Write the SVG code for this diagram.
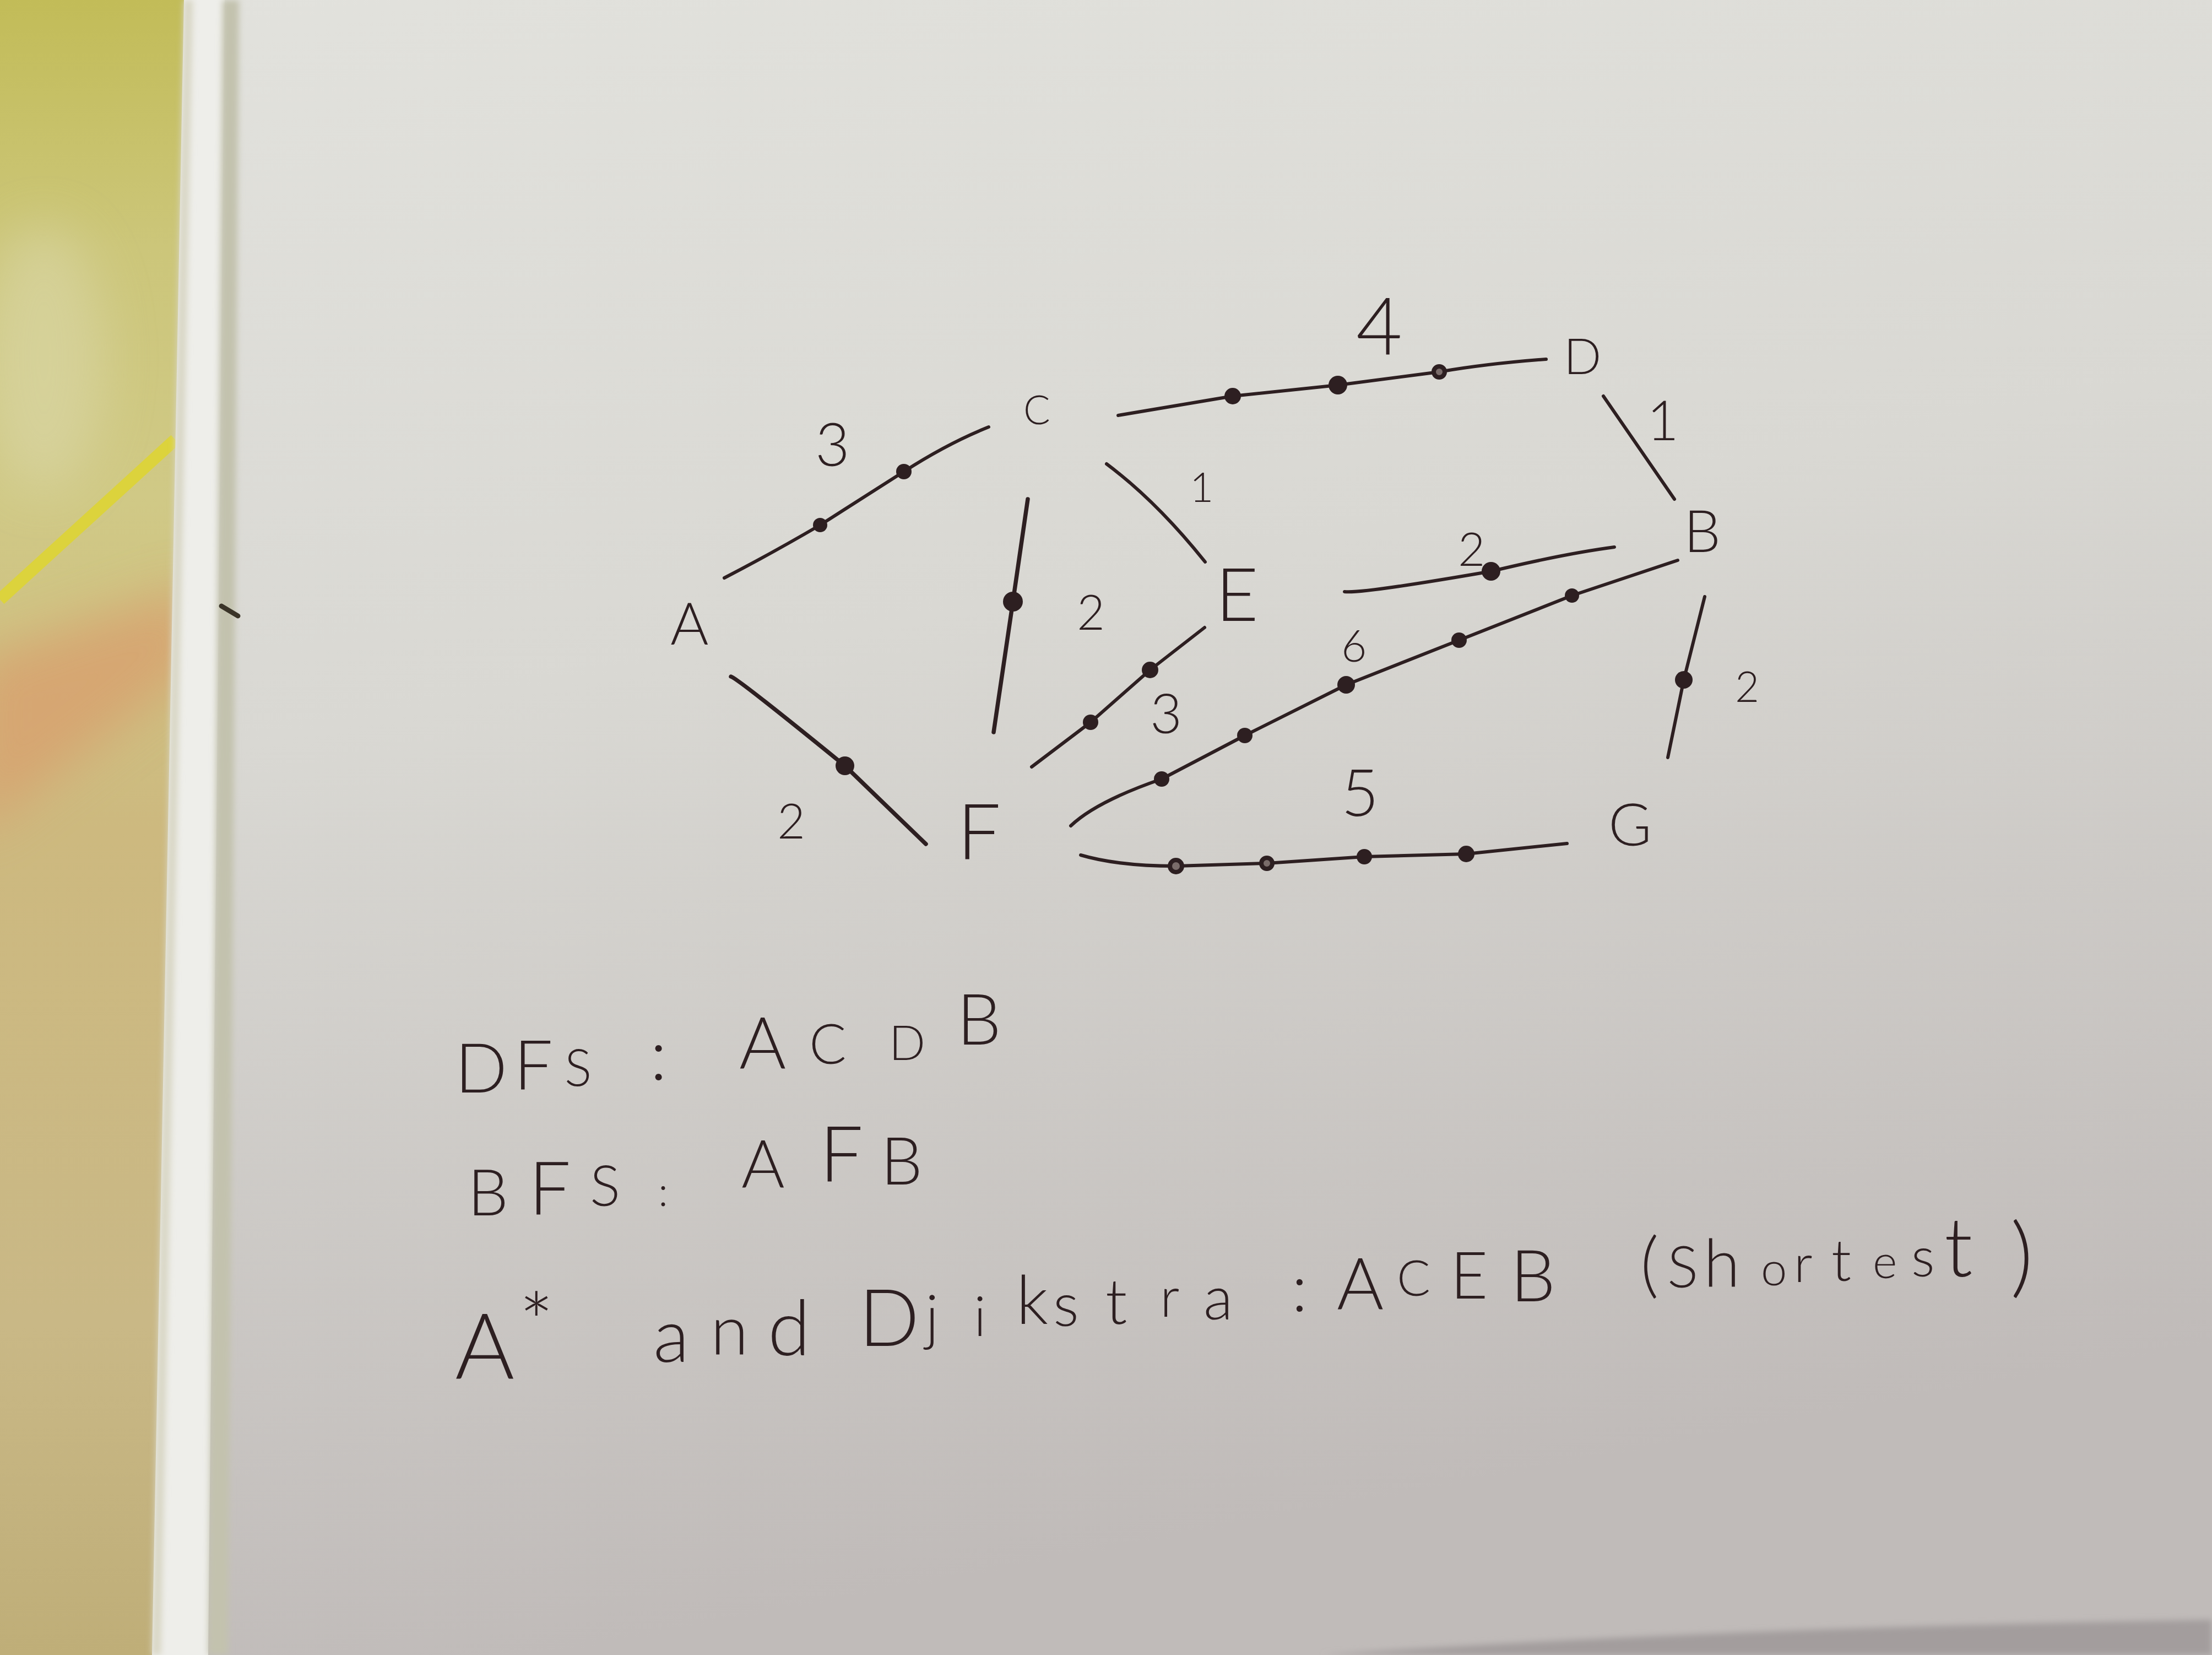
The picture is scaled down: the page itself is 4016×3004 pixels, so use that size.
<svg xmlns="http://www.w3.org/2000/svg" width="4016" height="3004" viewBox="0 0 4016 3004">
<style>
.ink{stroke:#2d1f21;fill:none;stroke-linecap:round;stroke-linejoin:round;stroke-width:6}
.thick{stroke-width:7.5}
.dot{fill:#2d1f21}
.hol{fill:#7a6c6a;stroke:#2d1f21;stroke-width:8}
.t{font-family:Lato,"Liberation Sans",sans-serif;font-weight:300;fill:#2d1f21}
</style>
<defs>
<linearGradient id="page" x1="0" y1="0" x2="0.25" y2="1">
<stop offset="0" stop-color="#e2e2dd"/>
<stop offset="0.45" stop-color="#d9d8d3"/>
<stop offset="1" stop-color="#c0bbb9"/>
</linearGradient>
<linearGradient id="yel" x1="0" y1="0" x2="0" y2="1">
<stop offset="0" stop-color="#c2bc58"/>
<stop offset="0.15" stop-color="#ccc67a"/>
<stop offset="0.3" stop-color="#d0c986"/>
<stop offset="0.5" stop-color="#cdb97f"/>
<stop offset="0.8" stop-color="#c9b886"/>
<stop offset="1" stop-color="#bfae78"/>
</linearGradient>
<filter id="blur" x="-50%" y="-50%" width="200%" height="200%"><feGaussianBlur stdDeviation="45"/></filter>
<filter id="blur2" x="-20%" y="-20%" width="140%" height="140%"><feGaussianBlur stdDeviation="6"/></filter>
<clipPath id="leftclip"><polygon points="0,0 338,0 278,3004 0,3004"/></clipPath>
</defs>
<g id="background">
<rect x="0" y="0" width="4016" height="3004" fill="url(#page)"/>
<path d="M2400,3004 Q3100,2955 4016,2940 L4016,3004 Z" fill="#a39d9d" filter="url(#blur2)"/>
<polygon points="0,0 338,0 278,3004 0,3004" fill="url(#yel)"/>
<g clip-path="url(#leftclip)">
<ellipse cx="80" cy="650" rx="110" ry="240" fill="#dcd9ad" opacity="0.55" filter="url(#blur)"/>
<polygon points="-50,1200 360,1060 360,1210 -50,1520" fill="#d8a06e" opacity="0.8" filter="url(#blur)"/>
</g>
<line x1="0" y1="1088" x2="318" y2="798" stroke="#dcd33c" stroke-width="22"/>
<polygon points="334,0 408,0 378,3004 276,3004" fill="#eeeeea"/>
<polygon points="334,0 350,0 292,3004 276,3004" fill="#d8d6c4" filter="url(#blur2)"/>
<polygon points="404,0 434,0 414,3004 378,3004" fill="#c3c2ae" filter="url(#blur2)"/>
<line x1="402" y1="1100" x2="432" y2="1118" stroke="#3a3428" stroke-width="9" stroke-linecap="round"/>
</g>
<g id="connectors">
<path class="ink" d="M1315,1049 Q1400,1005 1489,953 L1641,856 Q1720,805 1795,775"/>
<path class="ink thick" d="M1327,1228 Q1340,1232 1534,1390 L1681,1532"/>
<path class="ink" d="M2030,754 L2238,719 L2429,699 L2613,675 Q2700,660 2807,652"/>
<path class="ink thick" d="M1866,906 L1839,1092 L1804,1329"/>
<path class="ink" d="M2009,842 Q2100,910 2188,1020"/>
<path class="ink" d="M2911,719 L3040,906"/>
<path class="ink" d="M2441,1074 Q2470,1078 2707,1037 Q2840,1005 2931,993"/>
<path class="ink" d="M1873,1392 L1980,1311 L2088,1216 L2187,1139"/>
<path class="ink" d="M1944,1499 Q1990,1455 2109,1414 L2260,1335 L2444,1243 L2649,1162 L2854,1081 L3046,1017"/>
<path class="ink" d="M3095,1083 L3057,1234 L3028,1375"/>
<path class="ink" d="M1962,1552 Q2030,1572 2135,1572 L2300,1567 L2477,1555 L2662,1550 L2845,1531"/>
<circle class="dot" cx="1489" cy="953" r="13"/>
<circle class="dot" cx="1641" cy="856" r="14"/>
<circle class="dot" cx="1534" cy="1390" r="17"/>
<circle class="dot" cx="1839" cy="1092" r="18"/>
<circle class="dot" cx="2238" cy="719" r="15"/>
<circle class="dot" cx="2429" cy="699" r="17"/>
<circle class="hol" cx="2613" cy="675" r="10"/>
<circle class="dot" cx="2707" cy="1037" r="17"/>
<circle class="dot" cx="1980" cy="1311" r="14"/>
<circle class="dot" cx="2088" cy="1216" r="15"/>
<circle class="dot" cx="2109" cy="1414" r="14"/>
<circle class="dot" cx="2260" cy="1335" r="14"/>
<circle class="dot" cx="2444" cy="1243" r="16"/>
<circle class="dot" cx="2649" cy="1162" r="14"/>
<circle class="dot" cx="2854" cy="1081" r="13"/>
<circle class="dot" cx="3057" cy="1234" r="16"/>
<circle class="hol" cx="2135" cy="1572" r="11"/>
<circle class="hol" cx="2300" cy="1567" r="10"/>
<circle class="dot" cx="2477" cy="1555" r="14"/>
<circle class="dot" cx="2662" cy="1550" r="15"/>
</g>
<g id="weights">
<text class="t" x="1480" y="846" font-size="108">3</text>
<text class="t" x="1411" y="1522" font-size="88">2</text>
<text class="t" x="1955" y="1143" font-size="88">2</text>
<text class="t" x="2160" y="911" font-size="75">1</text>
<text class="t" x="2088" y="1331" font-size="100">3</text>
<text class="t" x="2462" y="643" font-size="145">4</text>
<text class="t" x="2990" y="799" font-size="100">1</text>
<text class="t" x="2647" y="1027" font-size="85">2</text>
<text class="t" x="2435" y="1201" font-size="80">6</text>
<text class="t" x="3150" y="1274" font-size="76">2</text>
<text class="t" x="2435" y="1481" font-size="118">5</text>
</g>
<g id="node-A"><text class="t" x="1217" y="1170" font-size="106">A</text></g>
<g id="node-C"><text class="t" x="1858" y="770" font-size="72">C</text></g>
<g id="node-D"><text class="t" x="2839" y="679" font-size="90">D</text></g>
<g id="node-B"><text class="t" x="3057" y="1002" font-size="106">B</text></g>
<g id="node-E"><text class="t" x="2207" y="1127" font-size="134">E</text></g>
<g id="node-F"><text class="t" x="1738" y="1560" font-size="140">F</text></g>
<g id="node-G"><text class="t" x="2920" y="1535" font-size="107">G</text></g>
<g id="notes">
<text class="t"><tspan x="826" y="1983" font-size="125">D</tspan><tspan x="933" y="1978" font-size="125">F</tspan><tspan x="1025" y="1971" font-size="92">S </tspan><tspan x="1180" y="1960" font-size="130">: </tspan><tspan x="1342" y="1940" font-size="130">A</tspan><tspan x="1469" y="1931" font-size="100">C</tspan><tspan x="1614" y="1924" font-size="87">D</tspan><tspan x="1737" y="1896" font-size="128">B</tspan></text>
<text class="t"><tspan x="849" y="2206" font-size="117">B</tspan><tspan x="960" y="2205" font-size="135">F</tspan><tspan x="1071" y="2189" font-size="103">S</tspan><tspan x="1195" y="2189" font-size="75">: </tspan><tspan x="1346" y="2155" font-size="120">A</tspan><tspan x="1488" y="2145" font-size="140">F</tspan><tspan x="1599" y="2150" font-size="120">B</tspan></text>
<text class="t"><tspan x="826" y="2502" font-size="165">A</tspan><tspan x="942" y="2455" font-size="150">* </tspan><tspan x="1186" y="2472" font-size="135">a</tspan><tspan x="1290" y="2458" font-size="125">n</tspan><tspan x="1394" y="2460" font-size="140">d </tspan><tspan x="1559" y="2443" font-size="145">D</tspan><tspan x="1680" y="2430" font-size="110">j</tspan><tspan x="1768" y="2425" font-size="100">i</tspan><tspan x="1845" y="2403" font-size="122">k</tspan><tspan x="1912" y="2407" font-size="110">s</tspan><tspan x="2007" y="2403" font-size="115">t</tspan><tspan x="2106" y="2390" font-size="100">r</tspan><tspan x="2185" y="2395" font-size="110">a </tspan><tspan x="2345" y="2380" font-size="120">:</tspan><tspan x="2427" y="2377" font-size="130">A</tspan><tspan x="2536" y="2352" font-size="90">C</tspan><tspan x="2633" y="2357" font-size="118">E</tspan><tspan x="2742" y="2362" font-size="130">B </tspan><tspan x="2978" y="2340" font-size="130">(</tspan><tspan x="3027" y="2337" font-size="105">S</tspan><tspan x="3093" y="2335" font-size="120">h</tspan><tspan x="3197" y="2333" font-size="85">o</tspan><tspan x="3257" y="2327" font-size="95">r</tspan><tspan x="3325" y="2325" font-size="105">t</tspan><tspan x="3400" y="2320" font-size="85">e</tspan><tspan x="3470" y="2317" font-size="100">s</tspan><tspan x="3530" y="2317" font-size="150">t </tspan><tspan x="3650" y="2335" font-size="160">)</tspan></text>
</g>
</svg>
